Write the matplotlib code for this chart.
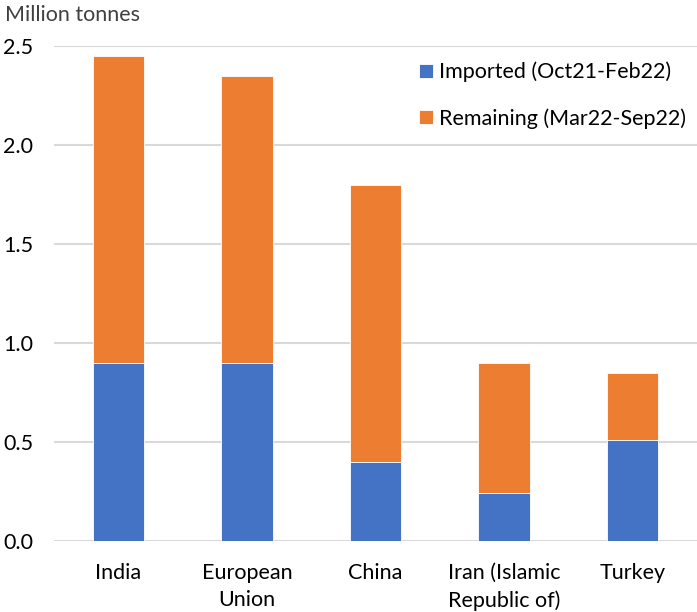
import matplotlib
matplotlib.use("Agg")
import matplotlib.pyplot as plt
import numpy as np

categories = ["India", "European\nUnion", "China", "Iran (Islamic\nRepublic of)", "Turkey"]
imported = [0.90, 0.90, 0.40, 0.24, 0.51]
remaining = [1.55, 1.45, 1.40, 0.66, 0.34]
yticks = [0.0, 0.5, 1.0, 1.5, 2.0, 2.5]
ytick_labels = ["0.0", "0.5", "1.0", "1.5", "2.0", "2.5"]

plt.rcParams['font.family'] = ['Lato', 'DejaVu Sans']
FS = 15.5

fig = plt.figure(figsize=(6.97, 6.12), dpi=100)
ax = fig.add_axes([54/697, 1-541/612, 643/697, (541-46)/612])

x = np.arange(len(categories))
blue = "#4472C4"
orange = "#ED7D31"
ax.bar(x, imported, width=0.4, color=blue, edgecolor="white", linewidth=0.6,
       label="Imported (Oct21-Feb22)", zorder=3)
ax.bar(x, remaining, width=0.4, bottom=imported, color=orange, edgecolor="white",
       linewidth=0.6, label="Remaining (Mar22-Sep22)", zorder=3)

ax.set_xlim(-0.5, len(categories) - 0.5)
ax.set_ylim(0, 2.5)
ax.set_yticks(yticks)
ax.set_yticklabels(ytick_labels)
ax.set_xticks(x)
ax.set_xticklabels(categories, linespacing=1.45)
ax.yaxis.grid(True, color="#D9D9D9", linewidth=1.5, zorder=0)
ax.set_axisbelow(True)
for s in ax.spines.values():
    s.set_visible(False)
ax.tick_params(axis='both', length=0, labelsize=FS, colors="black")
ax.tick_params(axis='y', pad=15)
ax.tick_params(axis='x', pad=16)

fig.text(5/697, 1-15/612, "Million tonnes", fontsize=FS, color="#404040",
         ha="left", va="center")

leg = ax.legend(loc="upper right", bbox_to_anchor=(1.0, 0.99), frameon=False,
                fontsize=FS, handlelength=0.65, handleheight=0.65, handletextpad=0.3,
                labelspacing=1.2, borderaxespad=0.1)

fig.savefig("out.png", dpi=100)
